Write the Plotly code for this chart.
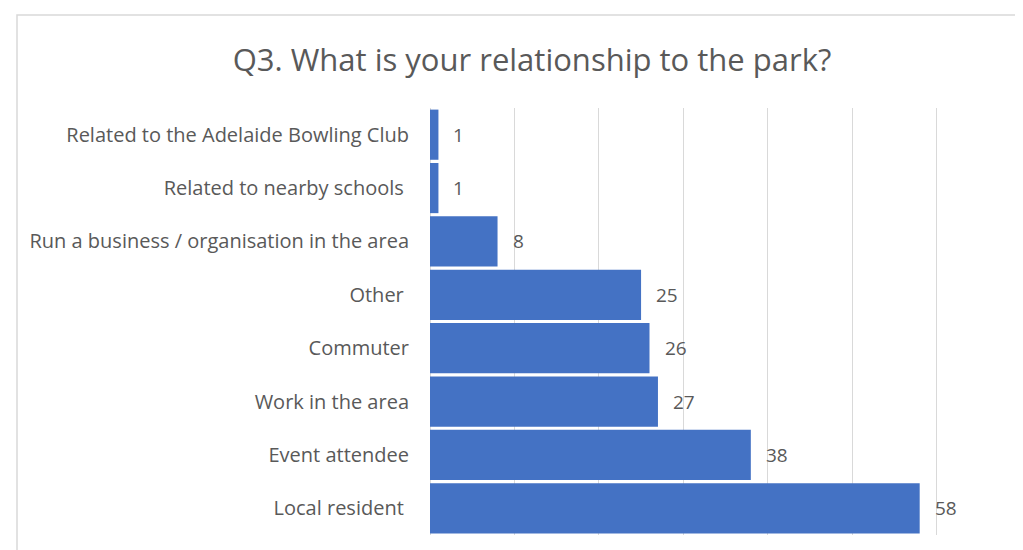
import plotly.graph_objects as go

categories = [
    "Related to the Adelaide Bowling Club",
    "Related to nearby schools ",
    "Run a business / organisation in the area",
    "Other ",
    "Commuter",
    "Work in the area",
    "Event attendee",
    "Local resident ",
]
values = [1, 1, 8, 25, 26, 27, 38, 58]
title_text = "Q3. What is your relationship to the park?"

BAR = "#4472C4"
TXT = "#595959"
GRID = "#D9D9D9"
FONT = "'Open Sans', sans-serif"

OFF = 8  # page body margin
W, H = 1023 - OFF, 550 - OFF
# target pixel positions in the final screenshot
PX_L, PX_R, PX_T, PX_B = 430, 1021, 108, 535
L = PX_L - OFF
R = W - (PX_R - OFF)
T = PX_T - OFF
B = H - (PX_B - OFF)

fig = go.Figure()
fig.add_trace(go.Bar(
    x=values, y=categories, orientation="h",
    marker=dict(color=BAR, line=dict(width=0)),
    hoverinfo="x+y",
))

for c, v in zip(categories, values):
    fig.add_annotation(
        x=v, y=c, text=str(v), showarrow=False,
        xanchor="left", yanchor="middle", xshift=13, yshift=0,
        font=dict(family=FONT, size=19, color=TXT),
    )

pw = W - L - R
ph = H - T - B
def px_x(p):
    return (p - PX_L) / pw
def px_y(p):
    return (PX_B - p) / ph

fig.add_shape(
    type="rect", xref="paper", yref="paper",
    x0=px_x(17), x1=px_x(1020), y0=px_y(620), y1=px_y(15),
    line=dict(color=GRID, width=1.5), fillcolor="rgba(0,0,0,0)", layer="below",
)

fig.update_layout(
    width=W, height=H,
    margin=dict(l=L, r=R, t=T, b=B),
    paper_bgcolor="white", plot_bgcolor="white",
    bargap=0.06,
    showlegend=False,
    title=dict(
        text=title_text, x=(532 - OFF) / W, xanchor="center",
        y=1 - (60 - OFF) / H, yanchor="middle", yref="container",
        font=dict(family=FONT, size=31, color=TXT),
    ),
    font=dict(family=FONT, color=TXT),
)
fig.update_xaxes(
    range=[0, 70], tick0=0, dtick=10, showgrid=True, gridcolor=GRID, gridwidth=1.3,
    zeroline=True, zerolinecolor=GRID, zerolinewidth=1.3,
    showticklabels=False, showline=False, fixedrange=True,
)
fig.update_yaxes(
    categoryorder="array", categoryarray=categories, autorange="reversed",
    tickfont=dict(family=FONT, size=20, color=TXT),
    ticks="", ticklabelstandoff=20, showgrid=False, showline=False,
)

fig.write_html("out.html")
